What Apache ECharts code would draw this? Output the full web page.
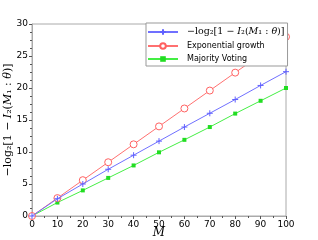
<!DOCTYPE html>
<html><head><meta charset="utf-8">
<script src="https://cdn.jsdelivr.net/npm/echarts@6/dist/echarts.min.js"></script>
<style>html,body{margin:0;padding:0;background:#fff}#c{width:318px;height:240px}</style>
</head><body><div id="c"></div>
<script>
var mValues = [0, 10, 20, 30, 40, 50, 60, 70, 80, 90, 100];
var infoBound = [0, 2.7, 5.0, 7.3, 9.5, 11.7, 13.9, 16.05, 18.2, 20.4, 22.55];
var expGrowth = [0, 2.8, 5.6, 8.4, 11.2, 14.0, 16.8, 19.6, 22.4, 25.2, 28.0];
var majority = [0, 2.1, 4.0, 5.95, 7.9, 9.95, 11.9, 13.9, 16.0, 18.0, 20.0];
var xTicks = [0, 10, 20, 30, 40, 50, 60, 70, 80, 90, 100];
var yTicks = [0, 5, 10, 15, 20, 25, 30];

var seriesNames = ['bound', 'Exponential growth', 'Majority Voting'];
function pairs(v){ return mValues.map(function(m,i){ return [m, v[i]]; }); }
function mkRich(fs){ return {
  n:{fontFamily:'DejaVu Serif', fontSize:fs, color:'#000'},
  i:{fontFamily:'DejaVu Serif', fontStyle:'italic', fontSize:fs, color:'#000'}
}; }
var boundLabel = '{n|−log₂[1 − }{i|I}{n|₂(}{i|M}{n|₁ : }{i|θ}{n|)]}';
var chart = echarts.init(document.getElementById('c'), null, {renderer:'canvas'});
chart.setOption({
  animation:false,
  grid:{left:32, right:32, top:24, bottom:24, show:true, borderColor:'#aaa', borderWidth:1,
        containLabel:false, outerBoundsMode:'none'},
  xAxis:{type:'value', min:0, max:100, interval:10,
    name:'M', nameLocation:'middle', nameGap:11, nameMoveOverlap:false,
    nameTextStyle:{fontFamily:'DejaVu Serif', fontStyle:'italic', fontSize:12, color:'#000'},
    axisLine:{lineStyle:{color:'#aaa'}},
    axisTick:{inside:false, length:3, lineStyle:{color:'#555'}},
    minorTick:{show:true, splitNumber:2, length:2, lineStyle:{color:'#555'}},
    splitLine:{show:false},
    axisLabel:{margin:4, fontFamily:'DejaVu Sans', fontSize:9, color:'#000',
      formatter:function(v){ return xTicks.indexOf(v)>=0 ? String(v) : ''; }}},
  yAxis:{type:'value', min:0, max:30, interval:5,
    name:boundLabel, nameLocation:'middle', nameGap:18, nameRotate:90, nameMoveOverlap:false,
    nameTextStyle:{rich:mkRich(11)},
    axisLine:{show:true, lineStyle:{color:'#aaa'}},
    axisTick:{show:true, inside:false, length:3, lineStyle:{color:'#555'}},
    minorTick:{show:true, splitNumber:4, length:2, lineStyle:{color:'#555'}},
    splitLine:{show:false},
    axisLabel:{margin:4, fontFamily:'DejaVu Sans', fontSize:9, color:'#000',
      formatter:function(v){ return yTicks.indexOf(v)>=0 ? String(v) : ''; }}},
  legend:{orient:'vertical', left:146, top:23,
    backgroundColor:'#fff', borderColor:'#999', borderWidth:1, borderRadius:0,
    padding:[4,3,3,1], itemGap:5, itemWidth:30, itemHeight:7,
    data:seriesNames,
    textStyle:{fontFamily:'DejaVu Sans', fontSize:8, color:'#000', rich:mkRich(9.5), padding:[0,0,0,4]},
    formatter:function(n){ return n==='bound' ? boundLabel : n; }},
  series:[
    {name:'bound', type:'line', data:pairs(infoBound),
     symbol:'path://M0,5L10,5M5,0L5,10', symbolSize:6, showAllSymbol:true,
     lineStyle:{color:'#7070ff', width:1},
     itemStyle:{color:'#7070ff', borderColor:'#6060ff', borderWidth:1}, z:3},
    {name:'Exponential growth', type:'line', data:pairs(expGrowth),
     symbol:'circle', symbolSize:7,
     lineStyle:{color:'#ff7070', width:1},
     itemStyle:{color:'#fff', borderColor:'#ff6060', borderWidth:1}, z:2},
    {name:'Majority Voting', type:'line', data:pairs(majority),
     symbol:'rect', symbolSize:4,
     lineStyle:{color:'#44ee44', width:1},
     itemStyle:{color:'#22dd22'}, z:1}
  ]
});
</script></body></html>
